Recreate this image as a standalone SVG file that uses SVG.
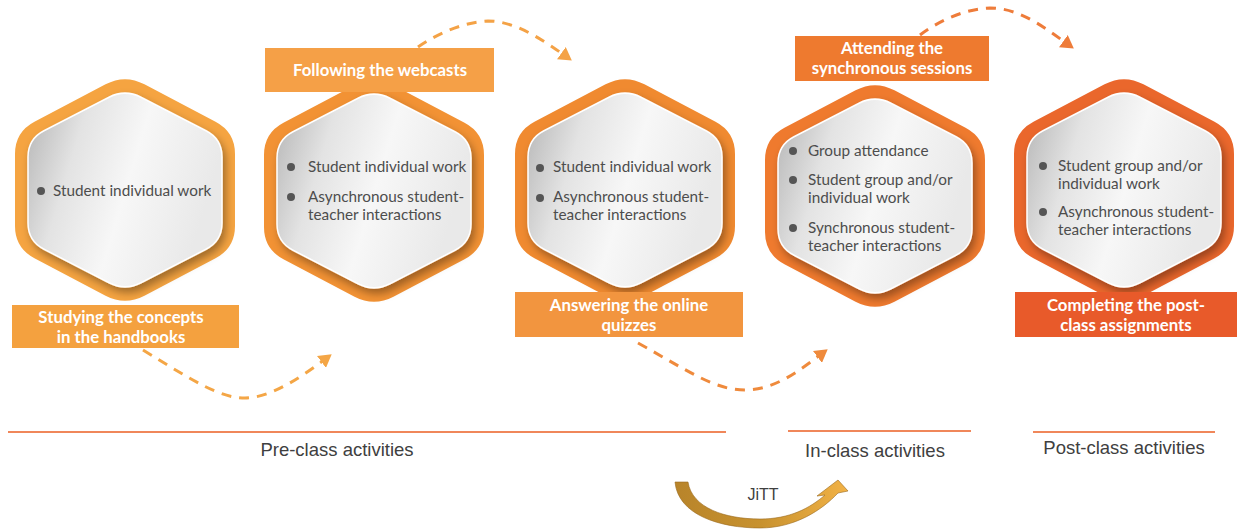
<svg xmlns="http://www.w3.org/2000/svg" width="1237" height="529" viewBox="0 0 1237 529">
<style>
.bt{font-family:Lato,"Open Sans","DejaVu Sans",sans-serif;font-size:15.3px;fill:#4d4d4d}
.lb{font-family:Lato,"Open Sans","DejaVu Sans",sans-serif;font-size:16.8px;font-weight:bold;fill:#ffffff;text-anchor:middle}
.ph{font-family:"Liberation Sans",Arial,sans-serif;font-size:18.5px;fill:#404040;text-anchor:middle}
.dot{fill:#555555}
.dash{fill:none;stroke-width:3;stroke-dasharray:10 8}
.sep{stroke:#F0875A;stroke-width:2}
</style>
<defs>
<path id="hexO" d="M-19.46,-105.74 Q0,-116 19.46,-105.74 L90.54,-68.26 Q110,-58 110,-36 L110,36 Q110,58 90.54,68.26 L19.46,105.74 Q0,116 -19.46,105.74 L-90.54,68.26 Q-110,58 -110,36 L-110,-36 Q-110,-58 -90.54,-68.26 Z"/>
<path id="hexI" d="M-16,-92.75 Q0,-101 16,-92.75 L81,-59.25 Q97,-51 97,-33 L97,33 Q97,51 81,59.25 L16,92.75 Q0,101 -16,92.75 L-81,59.25 Q-97,51 -97,33 L-97,-33 Q-97,-51 -81,-59.25 Z"/>
<linearGradient id="gI" x1="0" y1="0" x2="1" y2="0.3">
<stop offset="0" stop-color="#b3b3b3"/>
<stop offset="0.3" stop-color="#e3e3e3"/>
<stop offset="0.6" stop-color="#f7f7f7"/>
<stop offset="1" stop-color="#e9e9e9"/>
</linearGradient>
<linearGradient id="gJ" x1="0" y1="0" x2="1" y2="0">
<stop offset="0" stop-color="#b8842a"/>
<stop offset="0.5" stop-color="#c8922f"/>
<stop offset="1" stop-color="#f2b246"/>
</linearGradient>
<filter id="sh" x="-20%" y="-20%" width="140%" height="140%">
<feDropShadow dx="3" dy="5" stdDeviation="4" flood-color="#000" flood-opacity="0.35"/>
</filter>
<marker id="m1" markerUnits="userSpaceOnUse" viewBox="0 0 12 14" refX="3" refY="7" markerWidth="13" markerHeight="15" orient="auto"><path d="M0,0 L12,7 L0,14 Z" fill="#F4A646"/></marker>
<marker id="m2" markerUnits="userSpaceOnUse" viewBox="0 0 12 14" refX="3" refY="7" markerWidth="13" markerHeight="15" orient="auto"><path d="M0,0 L12,7 L0,14 Z" fill="#F4A246"/></marker>
<marker id="m3" markerUnits="userSpaceOnUse" viewBox="0 0 12 14" refX="3" refY="7" markerWidth="13" markerHeight="15" orient="auto"><path d="M0,0 L12,7 L0,14 Z" fill="#EF8A3C"/></marker>
<marker id="m4" markerUnits="userSpaceOnUse" viewBox="0 0 12 14" refX="3" refY="7" markerWidth="13" markerHeight="15" orient="auto"><path d="M0,0 L12,7 L0,14 Z" fill="#EE7C3A"/></marker>
</defs>
<rect width="1237" height="529" fill="#ffffff"/>

<g id="connectors">
<path class="dash" stroke="#F4A646" marker-end="url(#m1)" d="M143,350 C195,382 220,398 245,398 C270,398 300,378 324,360"/>
<path class="dash" stroke="#F4A246" marker-end="url(#m2)" d="M418,47 C440,32 465,22 488,21 C515,21 543,40 564,55"/>
<path class="dash" stroke="#EF8A3C" marker-end="url(#m3)" d="M638,343 C690,372 715,390 745,390 C775,390 800,370 820,355"/>
<path class="dash" stroke="#EE7C3A" marker-end="url(#m4)" d="M920,35 C940,20 965,9 990,8 C1020,8 1045,28 1066,43"/>
</g>

<g id="node1">
<use href="#hexO" transform="translate(125,190)" fill="#F5A441"/>
<use href="#hexI" transform="translate(125,190)" fill="url(#gI)" stroke="#ffffff" stroke-width="1.5" filter="url(#sh)"/>
<circle class="dot" cx="41" cy="191" r="4"/>
<text class="bt" x="53" y="196">Student individual work</text>
<rect x="12" y="305" width="227" height="43" fill="#F4A13F"/>
<text class="lb" x="121" y="323">Studying the concepts</text>
<text class="lb" x="121" y="343">in the handbooks</text>
</g>

<g id="node2">
<use href="#hexO" transform="translate(374,191)" fill="#F29234"/>
<use href="#hexI" transform="translate(374,191)" fill="url(#gI)" stroke="#ffffff" stroke-width="1.5" filter="url(#sh)"/>
<circle class="dot" cx="291" cy="167" r="4"/>
<text class="bt" x="308" y="172">Student individual work</text>
<circle class="dot" cx="291" cy="197" r="4"/>
<text class="bt" x="308" y="202">Asynchronous student-</text>
<text class="bt" x="308" y="220">teacher interactions</text>
<rect x="265" y="48" width="229" height="44" fill="#F5A047"/>
<text class="lb" x="380" y="76">Following the webcasts</text>
</g>

<g id="node3">
<use href="#hexO" transform="translate(625,190)" fill="#F08A30"/>
<use href="#hexI" transform="translate(625,190)" fill="url(#gI)" stroke="#ffffff" stroke-width="1.5" filter="url(#sh)"/>
<circle class="dot" cx="540" cy="168" r="4"/>
<text class="bt" x="553" y="172">Student individual work</text>
<circle class="dot" cx="540" cy="198" r="4"/>
<text class="bt" x="553" y="202">Asynchronous student-</text>
<text class="bt" x="553" y="220">teacher interactions</text>
<rect x="515" y="292" width="228" height="45" fill="#F2953F"/>
<text class="lb" x="629" y="311">Answering the online</text>
<text class="lb" x="629" y="331">quizzes</text>
</g>

<g id="node4">
<use href="#hexO" transform="translate(875,196)" fill="#EF7A2E"/>
<use href="#hexI" transform="translate(875,196)" fill="url(#gI)" stroke="#ffffff" stroke-width="1.5" filter="url(#sh)"/>
<circle class="dot" cx="793" cy="151" r="4"/>
<text class="bt" x="808" y="156">Group attendance</text>
<circle class="dot" cx="793" cy="180" r="4"/>
<text class="bt" x="808" y="185">Student group and/or</text>
<text class="bt" x="808" y="203">individual work</text>
<circle class="dot" cx="793" cy="228" r="4"/>
<text class="bt" x="808" y="233">Synchronous student-</text>
<text class="bt" x="808" y="251">teacher interactions</text>
<rect x="795" y="36" width="194" height="45" fill="#EE7A2F"/>
<text class="lb" x="892" y="54">Attending the</text>
<text class="lb" x="892" y="74">synchronous sessions</text>
</g>

<g id="node5">
<use href="#hexO" transform="translate(1124,190)" fill="#EA672C"/>
<use href="#hexI" transform="translate(1124,190)" fill="url(#gI)" stroke="#ffffff" stroke-width="1.5" filter="url(#sh)"/>
<circle class="dot" cx="1043" cy="166" r="4"/>
<text class="bt" x="1058" y="171">Student group and/or</text>
<text class="bt" x="1058" y="189">individual work</text>
<circle class="dot" cx="1043" cy="212" r="4"/>
<text class="bt" x="1058" y="217">Asynchronous student-</text>
<text class="bt" x="1058" y="235">teacher interactions</text>
<rect x="1015" y="292" width="222" height="45" fill="#E85A2A"/>
<text class="lb" x="1126" y="311">Completing the post-</text>
<text class="lb" x="1126" y="331">class assignments</text>
</g>

<g id="phases">
<line class="sep" x1="8" y1="432" x2="726" y2="432"/>
<text class="ph" x="337" y="456">Pre-class activities</text>
<line class="sep" x1="788" y1="431" x2="971" y2="431"/>
<text class="ph" x="875" y="457">In-class activities</text>
<line class="sep" x1="1033" y1="432" x2="1215" y2="432"/>
<text class="ph" x="1124" y="454">Post-class activities</text>
</g>

<g id="jitt">
<path fill="url(#gJ)" stroke="#9a6a1e" stroke-width="0.6" d="M675,482 C678,515 720,528 760,528 C795,528 822,510 838,493 L848,491 L838,480 L817,496 L825,495 C810,508 790,519 760,519 C725,519 692,508 688,482 Z"/>
<text class="ph" x="763" y="500" style="font-size:16px">JiTT</text>
</g>
</svg>
